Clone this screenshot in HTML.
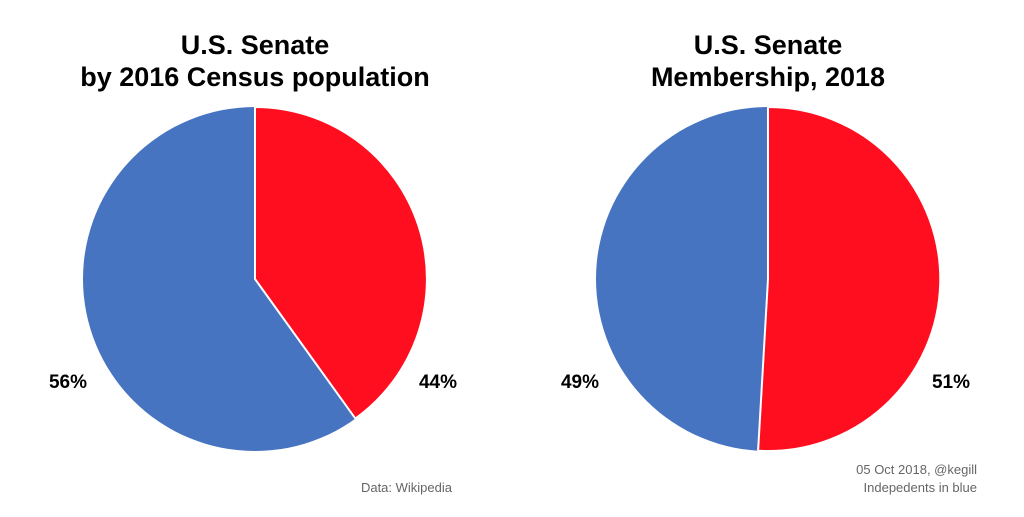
<!DOCTYPE html>
<html><head><meta charset="utf-8"><style>
html,body{margin:0;padding:0;background:#fff;}
body{width:1024px;height:512px;overflow:hidden;}
</style></head><body>
<svg width="1024" height="512" viewBox="0 0 1024 512" xmlns="http://www.w3.org/2000/svg">
<g font-family="Liberation Sans, sans-serif" font-weight="bold" fill="#000" text-anchor="middle" font-size="27">
<text x="255" y="54">U.S. Senate</text>
<text x="255" y="86">by 2016 Census population</text>
<text x="768" y="54">U.S. Senate</text>
<text x="768" y="86">Membership, 2018</text>
</g>
<circle cx="255" cy="279" r="172" fill="#4674C1"/>
<path d="M255,279 L255,107 A172,172 0 0 1 355.4,418.6 Z" fill="#FF0E1F" stroke="#fff" stroke-width="2" stroke-linejoin="round"/>
<circle cx="768" cy="279" r="172" fill="#4674C1"/>
<path d="M768,279 L768,107 A172,172 0 1 1 758.1,450.7 Z" fill="#FF0E1F" stroke="#fff" stroke-width="2" stroke-linejoin="round"/>
<g font-family="Liberation Sans, sans-serif" font-weight="bold" fill="#000" font-size="19" text-anchor="middle">
<text x="68" y="388">56%</text>
<text x="438" y="388">44%</text>
<text x="580" y="388">49%</text>
<text x="951" y="388">51%</text>
</g>
<g font-family="Liberation Sans, sans-serif" fill="#666" font-size="13" text-anchor="end">
<text x="452" y="492">Data: Wikipedia</text>
<text x="977" y="474">05 Oct 2018, @kegill</text>
<text x="977" y="492">Indepedents in blue</text>
</g>
</svg>
</body></html>
